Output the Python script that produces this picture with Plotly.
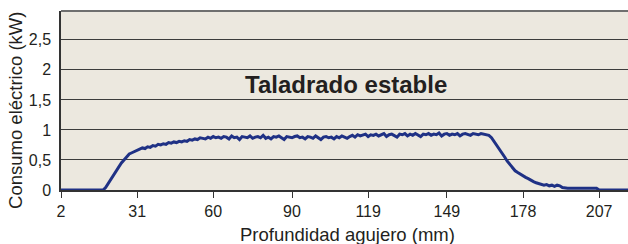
import plotly.graph_objects as go

# Depth (mm) — one sample per mm
depth_mm = list(range(2, 219))

# Electric power consumption (kW)
power_kw = [
    0, 0, 0, 0, 0, 0, 0, 0, 0, 0,                                  # 2-11
    0, 0, 0, 0, 0, 0, 0.00, 0.04, 0.11, 0.19,                      # 12-21
    0.26, 0.31, 0.38, 0.45, 0.50, 0.56, 0.60, 0.62, 0.64, 0.66,    # 22-31
    0.67, 0.70, 0.69, 0.72, 0.71, 0.74, 0.73, 0.76, 0.75, 0.77,    # 32-41
    0.76, 0.79, 0.78, 0.80, 0.79, 0.81, 0.80, 0.82, 0.81, 0.84,    # 42-51
    0.83, 0.85, 0.84, 0.87, 0.86, 0.85, 0.88, 0.86, 0.89, 0.87,    # 52-61
    0.88, 0.86, 0.89, 0.88, 0.85, 0.90, 0.87, 0.88, 0.84, 0.89,    # 62-71
    0.88, 0.87, 0.90, 0.86, 0.88, 0.89, 0.87, 0.91, 0.86, 0.88,    # 72-81
    0.85, 0.89, 0.88, 0.90, 0.87, 0.84, 0.89, 0.88, 0.87, 0.89,    # 82-91
    0.90, 0.87, 0.88, 0.85, 0.89, 0.88, 0.86, 0.90, 0.87, 0.84,    # 92-101
    0.88, 0.89, 0.87, 0.88, 0.85, 0.89, 0.87, 0.90, 0.88, 0.86,    # 102-111
    0.89, 0.91, 0.88, 0.92, 0.90, 0.91, 0.93, 0.89, 0.92, 0.91,    # 112-121
    0.93, 0.90, 0.92, 0.94, 0.89, 0.92, 0.93, 0.91, 0.88, 0.93,    # 122-131
    0.92, 0.94, 0.90, 0.93, 0.91, 0.94, 0.92, 0.89, 0.93, 0.92,    # 132-141
    0.94, 0.91, 0.93, 0.92, 0.95, 0.90, 0.93, 0.94, 0.91, 0.93,    # 142-151
    0.92, 0.94, 0.90, 0.93, 0.94, 0.92, 0.91, 0.94, 0.93, 0.92,    # 152-161
    0.94, 0.93, 0.92, 0.91, 0.87, 0.81, 0.74, 0.68, 0.62, 0.55,    # 162-171
    0.48, 0.42, 0.36, 0.32, 0.29, 0.26, 0.24, 0.21, 0.19, 0.16,    # 172-181
    0.14, 0.12, 0.11, 0.09, 0.08, 0.09, 0.07, 0.08, 0.06, 0.08,    # 182-191
    0.07, 0.04, 0.03, 0.03, 0.03, 0.03, 0.03, 0.03, 0.03, 0.03,    # 192-201
    0.03, 0.03, 0.03, 0.03, 0.03, 0, 0, 0, 0, 0,                   # 202-211
    0, 0, 0, 0, 0, 0, 0,                                           # 212-218
]

x_tick_labels = ["2", "31", "60", "90", "119", "149", "178", "207"]
y_tick_values = [0, 0.5, 1, 1.5, 2, 2.5]
y_tick_labels = ["0", "0,5", "1", "1,5", "2", "2,5"]
annotation_text = "Taladrado estable"
x_title = "Profundidad agujero (mm)"
y_title = "Consumo eléctrico (kW)"

FONT = "Liberation Sans, Arial, sans-serif"
TEXT = "#231f20"

fig = go.Figure()
fig.add_trace(go.Scatter(
    x=depth_mm, y=power_kw, mode="lines",
    line=dict(color="#1f3185", width=3),
    cliponaxis=False, showlegend=False,
))

fig.add_annotation(
    x=110.5, y=1.75, text=annotation_text, showarrow=False,
    font=dict(family=FONT, size=24, color=TEXT, weight="bold"),
)
# axis titles
fig.add_annotation(
    xref="paper", yref="paper", x=0.506, y=-0.251, text=x_title, showarrow=False,
    xanchor="center", yanchor="middle",
    font=dict(family=FONT, size=18.5, color=TEXT),
)
fig.add_annotation(
    xref="paper", yref="paper", x=-0.0794, y=0.447, text=y_title, showarrow=False,
    xanchor="center", yanchor="middle", textangle=-90,
    font=dict(family=FONT, size=18.5, color=TEXT),
)

# top border of the plot area
fig.add_shape(type="line", xref="paper", yref="paper", x0=0, x1=1, y0=1, y1=1,
              line=dict(color="#6f6f6f", width=2))

fig.update_layout(
    width=628, height=244,
    margin=dict(l=61, r=0, t=11, b=54),
    paper_bgcolor="white",
    plot_bgcolor="#ece8df",
    font=dict(family=FONT, size=16, color=TEXT),
)
fig.update_xaxes(
    range=[2, 218], automargin=False,
    tickvals=[int(t) for t in x_tick_labels], ticktext=x_tick_labels,
    ticks="outside", ticklen=6, tickcolor="#333333", tickwidth=1,
    showline=True, linecolor="#333333", linewidth=1.5,
    showgrid=False, zeroline=False,
    tickfont=dict(size=16, color=TEXT),
)
fig.update_yaxes(
    range=[0, 2.98], automargin=False,
    tickvals=y_tick_values, ticktext=y_tick_labels,
    ticks="", ticklabelstandoff=5,
    showline=True, linecolor="#333333", linewidth=1.5,
    showgrid=True, gridcolor="#3c3c3c", gridwidth=1,
    zeroline=False,
    tickfont=dict(size=16, color=TEXT),
)

fig.write_html(
    "out.html",
    config={"displayModeBar": False},
    post_script="document.body.style.margin='0px';document.body.style.overflow='hidden';",
)
